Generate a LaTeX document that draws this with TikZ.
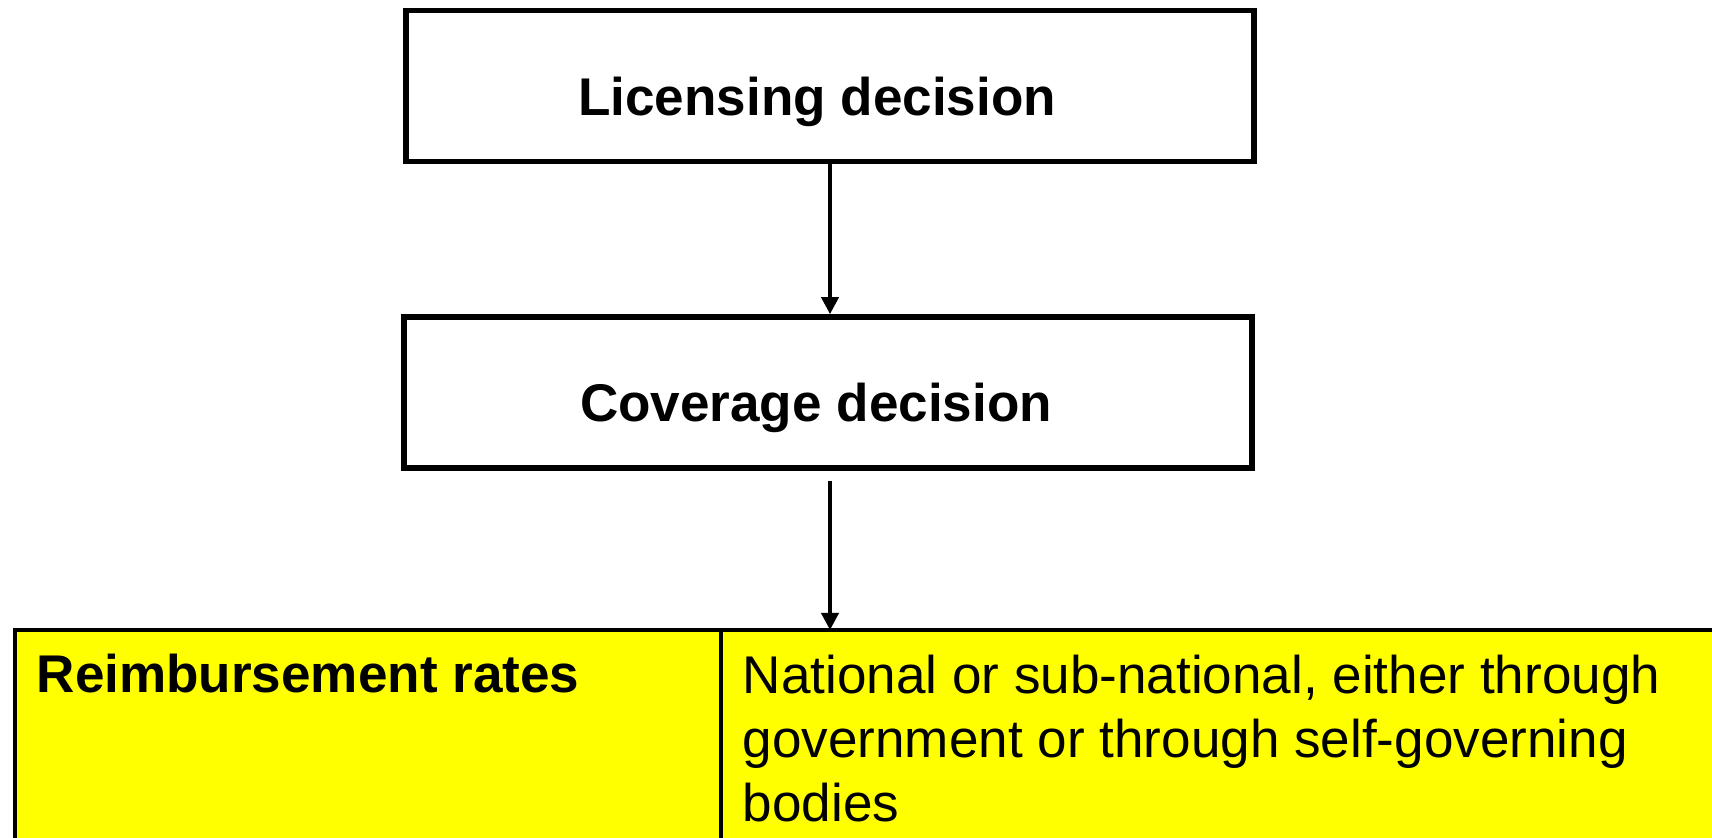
\documentclass[tikz,border=0pt]{standalone}
\usepackage{fontspec}
\setmainfont{Liberation Sans}
\usetikzlibrary{positioning,arrows.meta}
\definecolor{rateyellow}{RGB}{255,255,0}

\begin{document}
\begin{tikzpicture}[
  box/.style={draw, line width=1.6pt, minimum width=8.48cm, minimum height=1.51cm},
  boxtxt/.style={inner sep=0pt, font=\fontsize{15.1}{18}\selectfont\bfseries},
  cell/.style={draw, line width=0.9pt, outer sep=0pt, fill=rateyellow, anchor=north west, minimum height=2.6cm},
  arr/.style={-{Triangle[length=1.7mm,width=1.7mm]}, line width=1.1pt}
]
\useasboundingbox (0,0) rectangle (17.12,8.37);
\clip (0,0) rectangle (17.12,8.37);

% decision boxes
\node[box] (lic) at (8.30,7.51) {};
\node[boxtxt] (lictxt) at ([xshift=-1.3mm, yshift=-1.55mm]lic.center) {Licensing decision};
\node[box] (cov) at (8.28,4.445) {};
\node[boxtxt] (covtxt) at ([xshift=-1.2mm, yshift=-1.55mm]cov.center) {Coverage decision};

% table row
\node[cell, minimum width=7.06cm] (rate) at (0.15,2.07) {};
\node[cell, minimum width=10.5cm] (who) at (rate.north east) {};

\node[anchor=base west, inner sep=0pt, font=\fontsize{15.1}{18}\selectfont\bfseries]
  (ratetxt) at (0.36,1.45) {Reimbursement rates};
\node[anchor=north west, inner sep=0pt, align=left, font=\fontsize{15.1}{18.2}\selectfont]
  (whotxt) at (7.42,1.83) {National or sub-national, either through\\government or through self-governing\\bodies};

% arrows
\draw[arr] (lic.south -| 8.30,0) -- (cov.north -| 8.30,0);
\draw[arr] ([yshift=-1mm]cov.south -| 8.30,0) -- (who.north -| 8.30,0);
\end{tikzpicture}
\end{document}
